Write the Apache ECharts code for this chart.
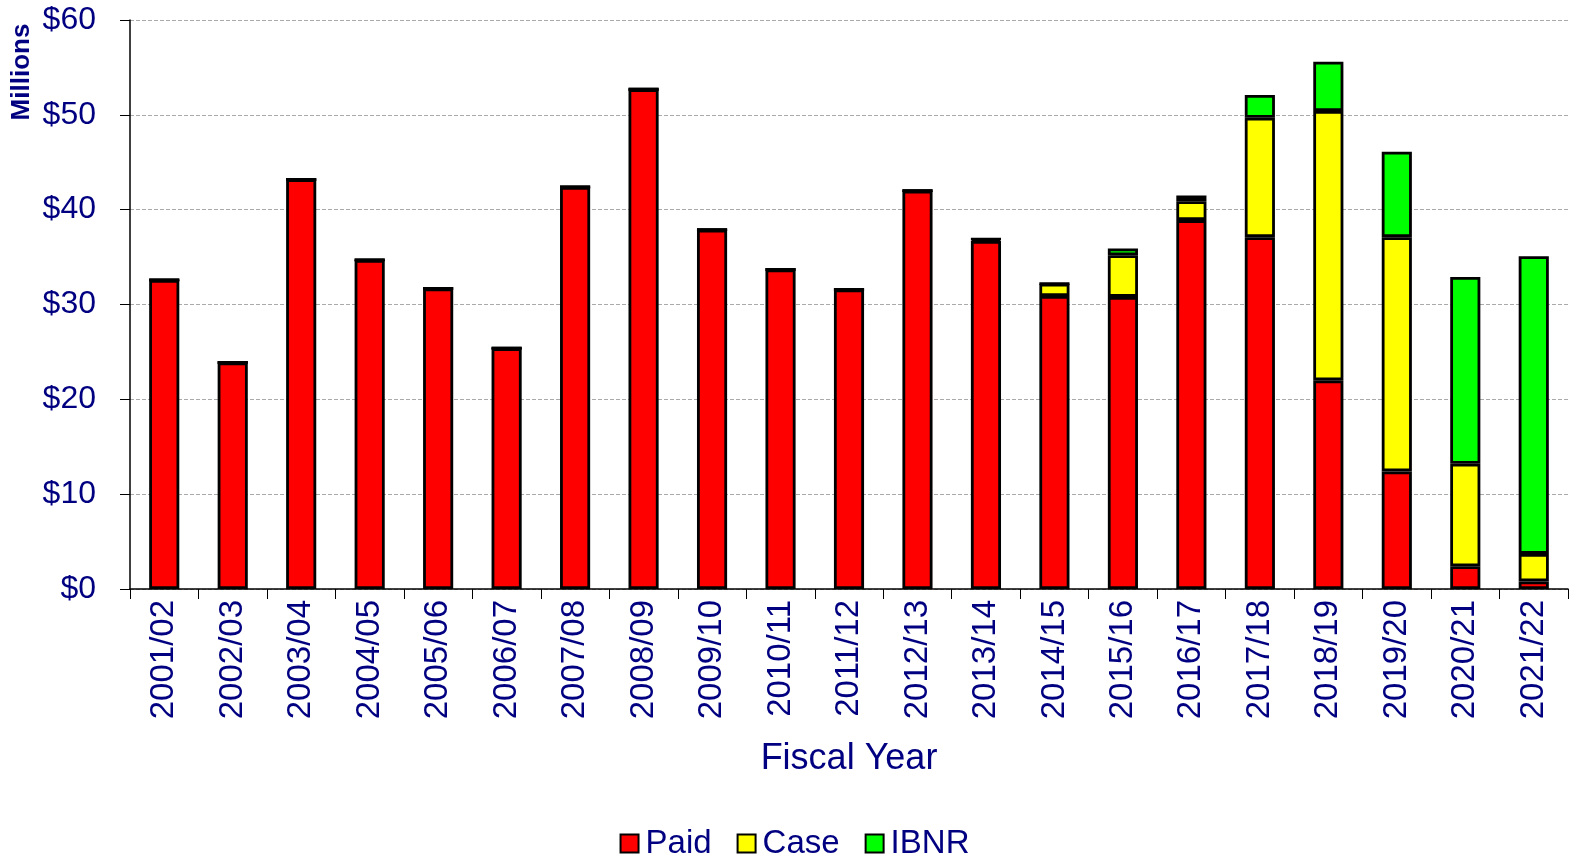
<!DOCTYPE html>
<html><head><meta charset="utf-8">
<script src="https://cdn.jsdelivr.net/npm/echarts@6/dist/echarts.min.js"></script>
<style>html,body{margin:0;padding:0;background:#fff;overflow:hidden;width:1589px;height:866px}#c{width:1589px;height:866px;position:absolute;left:0;top:0}</style>
</head><body><div id="c"></div>
<script>
const categories = ["2001/02","2002/03","2003/04","2004/05","2005/06","2006/07","2007/08","2008/09","2009/10","2010/11","2011/12","2012/13","2013/14","2014/15","2015/16","2016/17","2017/18","2018/19","2019/20","2020/21","2021/22"];
const paid = [32.6,23.9,43.2,34.7,31.7,25.4,42.4,52.7,37.9,33.7,31.6,42.0,36.7,30.9,30.8,38.9,37.1,22.0,12.4,2.4,0.8];
const caseRes = [0,0,0,0,0,0,0,0,0,0,0,0,0.2,1.3,4.4,2.0,12.6,28.4,24.7,10.8,2.9];
const ibnr = [0,0,0,0,0,0,0,0,0,0,0,0,0,0,0.7,0.6,2.4,5.2,9.0,19.7,31.4];
const yTicks = [0,10,20,30,40,50,60];

const navy = '#000080';
const font = 'Liberation Sans, Arial, sans-serif';
const chart = echarts.init(document.getElementById('c'), null, {width:1589, height:866});
function s(name, data, color){
  return {name, type:'bar', stack:'t', data, barWidth:'44%',
    itemStyle:{color, borderColor:'#000', borderWidth:2.8}};
}
chart.setOption({
  animation:false,
  grid:{left:130, right:21, top:20, bottom:277, outerBoundsMode:'none'},
  legend:{top:822, left:'center', itemWidth:18, itemHeight:18, itemGap:25,
    textStyle:{color:navy, fontSize:33, fontFamily:font, padding:[0,0,0,2]},
    data:[{name:'Paid',icon:'rect'},{name:'Case',icon:'rect'},{name:'IBNR',icon:'rect'}]},
  xAxis:{type:'category', data:categories, boundaryGap:true,
    name:'Fiscal Year', nameLocation:'middle', nameGap:152,
    nameTextStyle:{color:navy, fontSize:36, fontFamily:font},
    axisLine:{lineStyle:{color:'#000', width:1.5}},
    axisTick:{show:true, interval:0, length:10, lineStyle:{color:'#000'}},
    axisLabel:{rotate:90, interval:0, color:navy, fontSize:33, fontFamily:font, margin:11}},
  yAxis:{type:'value', min:yTicks[0], max:yTicks[yTicks.length-1], interval:10,
    axisLine:{show:true, lineStyle:{color:'#000', width:1.5}},
    axisTick:{show:true, length:10, lineStyle:{color:'#000'}},
    axisLabel:{color:navy, fontSize:32, fontFamily:font, margin:34, formatter:v=>'$'+v},
    splitLine:{lineStyle:{color:'#aaa', type:'dashed', width:1}}},
  graphic:[{type:'text', x:22, y:72, rotation:Math.PI/2,
    style:{text:'Millions', fill:navy, font:'bold 26px '+font, align:'center', verticalAlign:'middle'}}],
  series:[s('Paid',paid,'#ff0000'), s('Case',caseRes,'#ffff00'), s('IBNR',ibnr,'#00ff00')]
});
</script></body></html>
